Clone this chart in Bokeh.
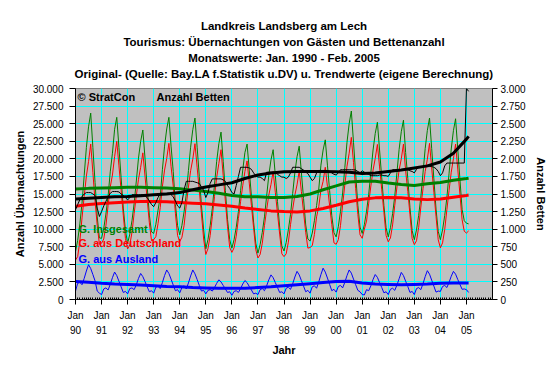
from bokeh.plotting import figure
from bokeh.models import Range1d, LinearAxis, FixedTicker, Label, Title
from bokeh.embed import file_html
from bokeh.resources import INLINE

# ---------------- data (monthly, Jan 1990 - Feb 2005) ----------------
insgesamt = [
    6800, 8400, 10750, 13700, 17650, 21600, 24550, 26500, 21600, 16650, 11750, 8750,   # 1990
    8700, 10100, 12150, 14700, 18150, 20800, 24200, 25900, 21600, 17300, 13000, 9800,  # 1991
    8000, 9300, 11200, 13650, 16850, 20100, 22500, 24100, 20100, 16050, 12000, 9600,   # 1992
    9400, 10700, 12700, 14600, 18450, 21800, 24250, 25900, 21800, 18200, 13500, 10500, # 1993
    9200, 10550, 12500, 15000, 18350, 21650, 24150, 25800, 21650, 17500, 13350, 9900,  # 1994
    7200, 8550, 10500, 13000, 16350, 19650, 22150, 23800, 19650, 15500, 11350, 8500,   # 1995
    7300, 8500, 10250, 12500, 15450, 18400, 20900, 22100, 18400, 14700, 11000, 8000,   # 1996
    6600, 7800, 9550, 11750, 14700, 17650, 19850, 21300, 17650, 13950, 10300, 7600,    # 1997
    6900, 8100, 9900, 12100, 15100, 18050, 20300, 21800, 18050, 14350, 10600, 8600,    # 1998
    8300, 9450, 11200, 13350, 15700, 19100, 21250, 22700, 19100, 15500, 11900, 9500,   # 1999
    8900, 10350, 12500, 15150, 18750, 22350, 25000, 26800, 22350, 17850, 13400, 10300, # 2000
    9400, 10650, 12550, 14950, 18100, 21250, 23600, 25200, 21250, 17300, 13350, 10200, # 2001
    8900, 10200, 12200, 14700, 18050, 21350, 23850, 25500, 20900, 17200, 13050, 9800,  # 2002
    8500, 9900, 11950, 14550, 18000, 21450, 24050, 25800, 21450, 17150, 12850, 9700,   # 2003
    8500, 9900, 11950, 14500, 17950, 21400, 24000, 25700, 21400, 17100, 12800, 11200,  # 2004
    10850, 10750,                                                                     # 2005
]
deutschland = [
    5600, 6100, 8300, 11600, 14650, 17550, 19600, 22100, 18050, 14000, 10550, 7850,   # 1990
    8000, 8600, 10500, 13350, 16000, 17700, 20300, 22500, 19000, 15500, 12000, 8650,  # 1991
    7200, 7750, 9550, 12250, 14750, 17100, 18800, 20850, 17550, 14250, 10900, 8350,   # 1992
    8500, 8950, 10800, 13050, 16050, 18400, 20050, 22200, 18900, 16150, 12250, 9100,  # 1993
    8250, 8850, 10550, 13500, 16000, 18300, 19950, 22150, 18800, 15500, 12150, 8600,  # 1994
    6400, 7250, 9100, 11800, 14650, 17350, 19350, 21300, 17650, 14000, 10350, 7400,   # 1995
    6700, 7350, 9000, 11500, 13900, 16200, 18200, 19700, 16550, 13350, 10200, 7100,   # 1996
    5900, 6400, 8000, 10500, 12750, 14850, 16350, 18200, 15250, 12250, 9300, 6500,    # 1997
    6100, 6500, 8150, 10650, 12850, 14850, 16300, 18300, 15350, 12450, 9500, 7300,    # 1998
    7400, 7650, 9250, 11750, 13200, 15550, 16800, 18800, 16050, 13350, 10650, 8050,   # 1999
    7850, 8500, 10500, 13500, 16300, 18950, 20800, 23050, 19450, 15750, 12100, 9200,  # 2000
    8700, 10000, 11150, 13700, 16150, 18400, 20050, 22050, 18850, 15600, 12400, 9100, # 2001
    8200, 8750, 10600, 13400, 16000, 18400, 20000, 22100, 18300, 15350, 12050, 8650,  # 2002
    7800, 8350, 10250, 13150, 15750, 18200, 19950, 22200, 18700, 15250, 11800, 8500,  # 2003
    7350, 8050, 9950, 12800, 15500, 18100, 20000, 22100, 18550, 14950, 11350, 9700,   # 2004
    9450, 9750,                                                                      # 2005
]
ausland = [
    1200, 2300, 2450, 2100, 3000, 4050, 4950, 4400, 3550, 2650, 1200, 900,   # 1990
    700, 1500, 1650, 1350, 2150, 3100, 3900, 3400, 2600, 1800, 1000, 1150,   # 1991
    800, 1550, 1650, 1400, 2100, 3000, 3700, 3250, 2550, 1800, 1100, 1250,   # 1992
    900, 1750, 1900, 1550, 2400, 3400, 4200, 3700, 2900, 2050, 1250, 1400,   # 1993
    950, 1700, 1950, 1500, 2350, 3350, 4200, 3650, 2850, 2000, 1200, 1300,   # 1994
    800, 1300, 1400, 1200, 1700, 2300, 2800, 2500, 2000, 1500, 1000, 1100,   # 1995
    600, 1150, 1250, 1000, 1550, 2200, 2700, 2400, 1850, 1350, 800, 900,     # 1996
    700, 1400, 1550, 1250, 1950, 2800, 3500, 3100, 2400, 1700, 1000, 1100,   # 1997
    800, 1600, 1750, 1450, 2250, 3200, 4000, 3500, 2700, 1900, 1100, 1300,   # 1998
    900, 1800, 1950, 1600, 2500, 3550, 4450, 3900, 3050, 2150, 1250, 1450,   # 1999
    1050, 1850, 2000, 1650, 2450, 3400, 4200, 3750, 2900, 2100, 1300, 1100,  # 2000
    700, 650, 1400, 1250, 1950, 2850, 3550, 3150, 2400, 1700, 950, 1100,     # 2001
    700, 1450, 1600, 1300, 2050, 2950, 3850, 3400, 2600, 1850, 1000, 1150,   # 2002
    700, 1550, 1700, 1400, 2250, 3250, 4100, 3600, 2750, 1900, 1050, 1200,   # 2003
    1150, 1850, 2000, 1700, 2450, 3300, 4000, 3600, 2850, 2150, 1450, 1500,  # 2004
    1400, 1000,                                                              # 2005
]
betten = [
    1275, 1350, 1420, 1465, 1500, 1520, 1520, 1520, 1500, 1480, 1300, 1180,  # 1990
    1250, 1330, 1395, 1460, 1510, 1535, 1535, 1535, 1530, 1500, 1480, 1450,  # 1991
    1415, 1450, 1490, 1490, 1490, 1490, 1490, 1490, 1470, 1450, 1400, 1350,  # 1992
    1320, 1380, 1450, 1510, 1510, 1510, 1510, 1510, 1490, 1460, 1400, 1330,  # 1993
    1300, 1380, 1560, 1680, 1680, 1680, 1680, 1670, 1660, 1650, 1600, 1550,  # 1994
    1450, 1520, 1650, 1715, 1715, 1715, 1715, 1715, 1700, 1680, 1620, 1580,  # 1995
    1520, 1500, 1620, 1750, 1880, 1880, 1880, 1880, 1870, 1850, 1800, 1760,  # 1996
    1740, 1740, 1720, 1690, 1810, 1810, 1810, 1810, 1800, 1780, 1760, 1740,  # 1997
    1740, 1720, 1740, 1800, 1880, 1880, 1880, 1880, 1860, 1840, 1810, 1790,  # 1998
    1740, 1690, 1720, 1800, 1835, 1835, 1835, 1835, 1835, 1820, 1800, 1780,  # 1999
    1770, 1800, 1845, 1845, 1845, 1845, 1845, 1845, 1845, 1840, 1820, 1800,  # 2000
    1830, 1810, 1790, 1780, 1760, 1760, 1760, 1760, 1770, 1770, 1760, 1760,  # 2001
    1750, 1800, 1845, 1845, 1845, 1845, 1845, 1845, 1845, 1845, 1830, 1820,  # 2002
    1800, 1850, 1890, 1890, 1890, 1890, 1890, 1890, 1890, 1880, 1860, 1820,  # 2003
    1760, 1800, 1900, 1940, 1940, 1940, 1940, 1940, 1940, 1940, 1940, 1940,  # 2004
    3000, 2960,                                                              # 2005
]

# trend values (Jan & Jul of each year 1990-2004, then Jan 2005, Feb 2005)
trend_insgesamt = [15700, 15800, 15850, 15900, 15950, 15950, 15900, 15850, 15750, 15550,
                   15350, 15100, 14800, 14600, 14600, 14500, 14500, 14650, 15000, 15600,
                   16150, 16700, 16800, 16800, 16550, 16350, 16200, 16450, 16650, 16950,
                   17200, 17250]
trend_deutschland = [13250, 13500, 13650, 13750, 13850, 13950, 13950, 13900, 13800, 13700,
                     13600, 13450, 13250, 13000, 12800, 12600, 12500, 12450, 12600, 12950,
                     13400, 13900, 14250, 14450, 14500, 14450, 14300, 14200, 14300, 14550,
                     14800, 14850]
trend_ausland = [2550, 2450, 2300, 2200, 2150, 2050, 1950, 1850, 1800, 1700,
                 1650, 1600, 1600, 1600, 1700, 1800, 1950, 2100, 2250, 2400,
                 2550, 2600, 2350, 2200, 2150, 2100, 2150, 2200, 2300, 2350,
                 2350, 2350]
trend_betten = [1430, 1440, 1450, 1460, 1465, 1475, 1490, 1500, 1520, 1560,
                1600, 1630, 1660, 1720, 1770, 1800, 1815, 1820, 1820, 1820,
                1815, 1810, 1790, 1800, 1820, 1840, 1870, 1900, 1955, 2080,
                2280, 2320]

year_ticks = [0, 12, 24, 36, 48, 60, 72, 84, 96, 108, 120, 132, 144, 156, 168, 180]
year_labels = ["Jan\n90", "Jan\n91", "Jan\n92", "Jan\n93", "Jan\n94", "Jan\n95", "Jan\n96",
               "Jan\n97", "Jan\n98", "Jan\n99", "Jan\n00", "Jan\n01", "Jan\n02", "Jan\n03",
               "Jan\n04", "Jan\n05"]
left_ticks = [0, 2500, 5000, 7500, 10000, 12500, 15000, 17500, 20000, 22500, 25000, 27500, 30000]
left_labels = ["0", "2.500", "5.000", "7.500", "10.000", "12.500", "15.000", "17.500",
               "20.000", "22.500", "25.000", "27.500", "30.000"]
right_ticks = [0, 250, 500, 750, 1000, 1250, 1500, 1750, 2000, 2250, 2500, 2750, 3000]
right_labels = ["0", "250", "500", "750", "1.000", "1.250", "1.500", "1.750", "2.000",
                "2.250", "2.500", "2.750", "3.000"]

title_lines = ["Landkreis Landsberg am Lech",
               "Tourismus: Übernachtungen von Gästen und Bettenanzahl",
               "Monatswerte: Jan. 1990 - Feb. 2005",
               "Original- (Quelle: Bay.LA f.Statistik u.DV) u. Trendwerte (eigene Berechnung)"]

months = list(range(len(insgesamt)))
trend_months = list(range(0, 180, 6)) + [180, 181]

FONT = "Liberation Sans"

p = figure(frame_width=417, frame_height=211,
           x_range=Range1d(0, 192), y_range=Range1d(0, 30000),
           output_backend="svg", toolbar_location=None,
           min_border_left=75, min_border_right=52, min_border_top=88, min_border_bottom=59,
           background_fill_color="#C0C0C0", border_fill_color="white",
           outline_line_color="#808080", outline_line_width=1)
p.extra_y_ranges = {"betten": Range1d(0, 3000)}

# titles (first added sits closest to the plot)
p.add_layout(Title(text=" ", text_font_size="6px", standoff=0), "above")
for line in reversed(title_lines):
    p.add_layout(Title(text=line, align="center", text_font=FONT, text_font_size="11.5px",
                       text_font_style="bold", text_color="black", standoff=1.5), "above")

# axes
xa = p.xaxis[0]
xa.ticker = FixedTicker(ticks=year_ticks, minor_ticks=list(range(0, 193)))
xa.major_label_overrides = dict(zip(year_ticks, year_labels))
xa.major_tick_out = 5
xa.major_tick_in = 0
xa.minor_tick_in = 2
xa.minor_tick_out = 0
xa.major_label_standoff = 5
xa.major_label_text_line_height = 1.45
xa.axis_label = "Jahr"
xa.axis_label_standoff = 5

ya = p.yaxis[0]
ya.ticker = FixedTicker(ticks=left_ticks)
ya.major_label_overrides = dict(zip(left_ticks, left_labels))
ya.major_tick_out = 6
ya.major_tick_in = 0
ya.minor_tick_out = 0
ya.minor_tick_in = 0
ya.major_label_standoff = 6
ya.axis_label = "Anzahl Übernachtungen"
ya.axis_label_standoff = 4

ra = LinearAxis(y_range_name="betten", ticker=FixedTicker(ticks=right_ticks))
ra.major_label_overrides = dict(zip(right_ticks, right_labels))
ra.major_tick_out = 5
ra.major_tick_in = 0
ra.minor_tick_out = 0
ra.minor_tick_in = 0
ra.major_label_standoff = 3
ra.axis_label = "Anzahl Betten"
ra.axis_label_standoff = 6
p.add_layout(ra, "right")

for ax in (xa, ya, ra):
    ax.axis_line_color = "black"
    ax.major_tick_line_color = "black"
    ax.minor_tick_line_color = "black"
    ax.major_label_text_font = FONT
    ax.major_label_text_font_size = "10px"
    ax.major_label_text_color = "black"
    ax.axis_label_text_font = FONT
    ax.axis_label_text_font_size = "11px"
    ax.axis_label_text_font_style = "bold"
    ax.axis_label_text_color = "black"

p.xgrid.ticker = FixedTicker(ticks=year_ticks)
p.xgrid.grid_line_color = "#00FFFF"
p.ygrid.ticker = FixedTicker(ticks=left_ticks)
p.ygrid.grid_line_color = "#00FFFF"

# series
p.line(months, insgesamt, line_color="#008000", line_width=1)
p.line(months, deutschland, line_color="#FF0000", line_width=1)
p.line(months, ausland, line_color="#0000FF", line_width=1)
p.line(trend_months, trend_insgesamt, line_color="#008000", line_width=3)
p.line(trend_months, trend_deutschland, line_color="#FF0000", line_width=3)
p.line(trend_months, trend_ausland, line_color="#0000FF", line_width=3)
p.line(months, betten, line_color="black", line_width=1, y_range_name="betten")
p.line(trend_months, trend_betten, line_color="black", line_width=3, y_range_name="betten")

# texts inside the plot area (screen units, relative to the frame's bottom-left corner)
def lab(x, y, text, color="black"):
    p.add_layout(Label(x=x, y=y, x_units="screen", y_units="screen", text=text,
                       text_font=FONT, text_font_style="bold", text_font_size="11px",
                       text_color=color, text_align="left", text_baseline="middle"))

lab(2, 202.5, "© StratCon")
lab(81, 202.5, "Anzahl Betten")
lab(3, 71, "G. Insgesamt", color="#008000")
lab(3, 56.5, "G. aus Deutschland", color="#FF0000")
lab(3, 41, "G. aus Ausland", color="#0000FF")

open("out.html", "w").write(file_html(p, INLINE))
